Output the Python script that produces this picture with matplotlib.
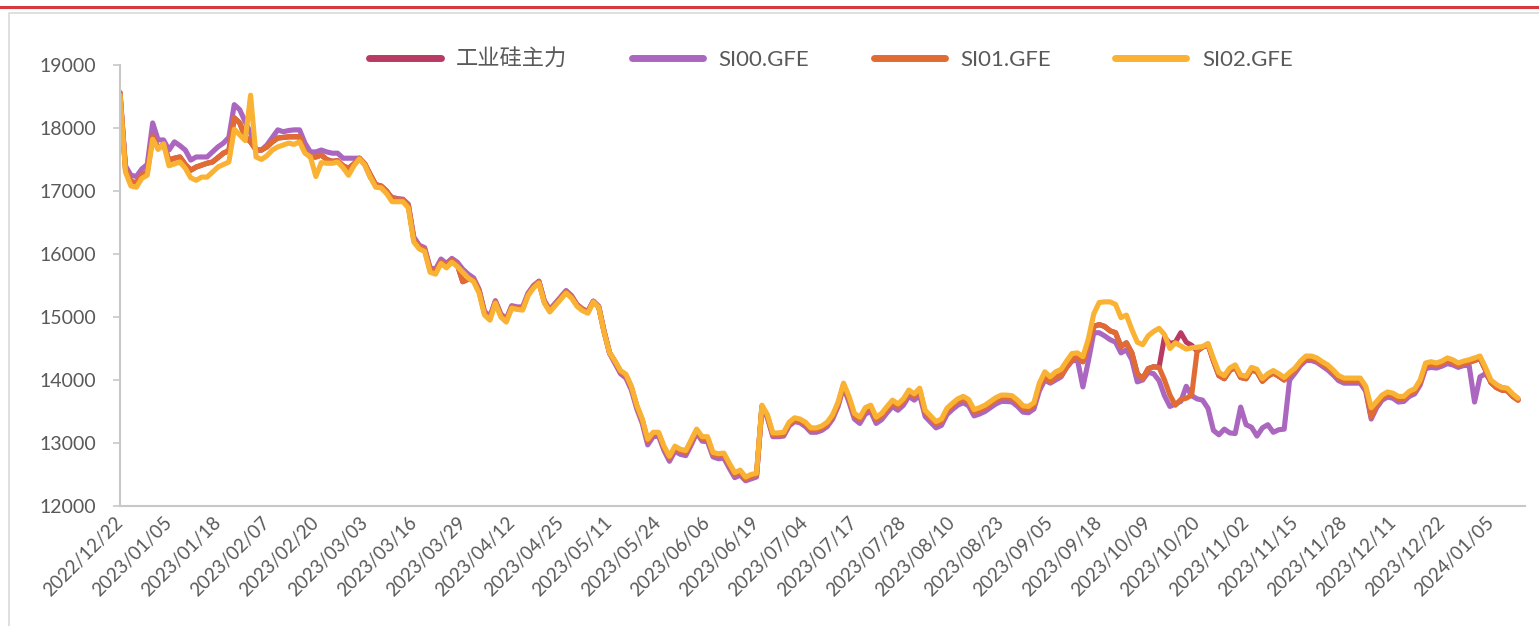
import matplotlib.pyplot as plt
from matplotlib.lines import Line2D

plt.rcParams['font.family'] = ['Lato', 'Noto Sans CJK SC', 'DejaVu Sans']

# x-axis labels, one every 9 trading days
tick_labels = ['2022/12/22', '2023/01/05', '2023/01/18', '2023/02/07', '2023/02/20',
               '2023/03/03', '2023/03/16', '2023/03/29', '2023/04/12', '2023/04/25',
               '2023/05/11', '2023/05/24', '2023/06/06', '2023/06/19', '2023/07/04',
               '2023/07/17', '2023/07/28', '2023/08/10', '2023/08/23', '2023/09/05',
               '2023/09/18', '2023/10/09', '2023/10/20', '2023/11/02', '2023/11/15',
               '2023/11/28', '2023/12/11', '2023/12/22', '2024/01/05']

si02 = [18520, 17300, 17080, 17060, 17200, 17250, 17820, 17660, 17750, 17400,
        17430, 17460, 17360, 17210, 17170, 17220, 17220, 17300, 17380, 17420,
        17460, 17980, 17890, 17800, 18520, 17540, 17500, 17560, 17650, 17700,
        17730, 17760, 17740, 17780, 17600, 17540, 17230, 17450, 17440, 17440,
        17460, 17370, 17250, 17400, 17510, 17410, 17220, 17060, 17050, 16960,
        16830, 16830, 16830, 16730, 16190, 16080, 16040, 15710, 15680, 15850,
        15780, 15870, 15800, 15710, 15620, 15560, 15380, 15030, 14950, 15220,
        15000, 14920, 15140, 15120, 15110, 15340, 15460, 15540, 15220, 15080,
        15180, 15280, 15380, 15300, 15170, 15100, 15060, 15240, 15150, 14750,
        14430, 14300, 14150, 14090, 13900, 13600, 13380, 13060, 13170, 13170,
        12950, 12790, 12950, 12900, 12880, 13050, 13220, 13100, 13100, 12850,
        12830, 12840, 12680, 12530, 12570, 12460, 12500, 12520, 13600, 13450,
        13160, 13160, 13170, 13330, 13400, 13380, 13330, 13240, 13240, 13270,
        13330, 13450, 13650, 13950, 13740, 13470, 13410, 13560, 13600, 13410,
        13470, 13580, 13680, 13620, 13700, 13840, 13780, 13870, 13520, 13430,
        13340, 13380, 13550, 13630, 13700, 13740, 13690, 13530, 13560, 13600,
        13660, 13720, 13760, 13760, 13750, 13680, 13590, 13580, 13640, 13950,
        14130, 14050, 14130, 14170, 14300, 14420, 14430, 14370, 14650, 15050,
        15230, 15240, 15240, 15200, 14990, 15030, 14800, 14600, 14560, 14700,
        14770, 14820, 14720, 14500, 14590, 14540, 14490, 14510, 14520, 14530,
        14580, 14340, 14120, 14070, 14190, 14240, 14080, 14060, 14200, 14170,
        14020, 14100, 14150, 14100, 14040, 14120, 14190, 14300, 14380, 14380,
        14350, 14290, 14240, 14160, 14070, 14030, 14030, 14030, 14030, 13900,
        13560, 13660, 13760, 13810, 13790, 13740, 13740, 13820, 13860, 14000,
        14270, 14290, 14270, 14300, 14350, 14320, 14270, 14300, 14320, 14350,
        14380, 14200, 14000, 13930, 13880, 13870, 13780, 13710]

si01 = [18560, 17350, 17150, 17130, 17260, 17300, 17870, 17680, 17740, 17490,
        17520, 17540, 17420, 17330, 17380, 17410, 17440, 17460, 17530, 17600,
        17640, 18160, 18080, 17860, 17780, 17650, 17650, 17700, 17780, 17840,
        17850, 17860, 17860, 17860, 17620, 17540, 17540, 17570, 17500, 17470,
        17480, 17400, 17360, 17430, 17520, 17430, 17260, 17100, 17080, 17000,
        16880, 16870, 16860, 16770, 16230, 16110, 16070, 15750, 15720, 15880,
        15810, 15900, 15830, 15560, 15600, 15590, 15420, 15060, 14980, 15240,
        15030, 14950, 15160, 15140, 15130, 15360, 15480, 15560, 15240, 15100,
        15200, 15300, 15400, 15320, 15190, 15120, 15080, 15250, 15160, 14760,
        14430, 14290, 14130, 14070, 13880, 13580, 13360, 13030, 13150, 13150,
        12920, 12760, 12920, 12870, 12850, 13020, 13200, 13070, 13070, 12820,
        12800, 12810, 12650, 12500, 12540, 12430, 12470, 12490, 13580, 13420,
        13130, 13130, 13140, 13300, 13370, 13350, 13300, 13210, 13210, 13240,
        13300, 13420, 13620, 13920, 13700, 13430, 13370, 13520, 13560, 13370,
        13430, 13540, 13640, 13580, 13660, 13800, 13740, 13830, 13480, 13390,
        13300, 13340, 13510, 13590, 13660, 13700, 13650, 13490, 13520, 13560,
        13620, 13680, 13720, 13720, 13710, 13640, 13550, 13540, 13600, 13900,
        14050, 13970, 14050, 14070, 14200, 14320, 14370, 14290, 14560, 14850,
        14880, 14850, 14780, 14750, 14530, 14590, 14430, 14100, 14020, 14180,
        14210, 14200, 14000, 13760, 13600, 13690, 13710, 13760, 14460, 14520,
        14560, 14300, 14070, 14020, 14150, 14200, 14040, 14020, 14160, 14130,
        13980, 14060, 14110, 14060, 14000, 14080, 14150, 14260, 14340, 14340,
        14310, 14250, 14200, 14120, 14030, 13990, 13990, 13990, 13990, 13860,
        13420, 13600, 13710, 13770, 13750, 13700, 13700, 13780, 13820, 13960,
        14230, 14250, 14230, 14260, 14310, 14280, 14230, 14260, 14280, 14310,
        14340, 14160, 13960, 13880, 13840, 13830, 13740, 13680]

si00 = [18500, 17400, 17250, 17230, 17350, 17420, 18080, 17810, 17810, 17650,
        17780, 17720, 17650, 17490, 17540, 17540, 17540, 17620, 17700, 17760,
        17850, 18370, 18290, 18100, 17920, 17650, 17650, 17730, 17850, 17970,
        17940, 17960, 17970, 17970, 17760, 17620, 17620, 17650, 17620, 17600,
        17600, 17520, 17520, 17520, 17520, 17420, 17220, 17100, 17060, 16970,
        16900, 16880, 16870, 16790, 16270, 16140, 16100, 15780, 15760, 15920,
        15850, 15930, 15870, 15760, 15680, 15620, 15440, 15090, 15010, 15260,
        15050, 14970, 15180, 15160, 15160, 15380, 15500, 15570, 15260, 15120,
        15220, 15320, 15420, 15340, 15200, 15130, 15090, 15250, 15170, 14770,
        14420, 14260, 14100, 14030, 13840, 13540, 13310, 12970, 13100, 13110,
        12880, 12710, 12870, 12820, 12800, 12970, 13160, 13030, 13020, 12780,
        12750, 12760, 12600, 12450, 12490, 12400, 12430, 12460, 13560, 13400,
        13100, 13100, 13110, 13270, 13340, 13320, 13260, 13170, 13170, 13200,
        13260, 13380, 13580, 13890, 13650, 13380, 13310, 13460, 13500, 13310,
        13370, 13480, 13580, 13520, 13600, 13740, 13680, 13760, 13420, 13330,
        13240, 13280, 13450, 13530, 13600, 13640, 13590, 13430, 13460, 13500,
        13560, 13620, 13660, 13660, 13650, 13580, 13490, 13480, 13540, 13830,
        14000, 13950, 14000, 14050, 14200, 14300, 14320, 13890, 14300, 14750,
        14750, 14700, 14640, 14600, 14430, 14480, 14320, 13970, 14000, 14120,
        14100, 13990, 13750, 13580, 13620, 13660, 13900, 13750, 13700, 13680,
        13550, 13200, 13130, 13220, 13160, 13150, 13570, 13290, 13250, 13110,
        13240, 13290, 13170, 13210, 13220, 14000, 14110, 14230, 14310, 14310,
        14280, 14220, 14160, 14080, 13990, 13950, 13950, 13950, 13950, 13820,
        13380, 13560, 13680, 13730, 13710, 13650, 13660, 13740, 13780, 13920,
        14180, 14200, 14190, 14220, 14260, 14240, 14200, 14230, 14230, 13650,
        14050, 14100, 13980, 13920, 13880, 13860, 13760, 13700]

# main contract follows SI01 except for a week in October when it sat on the next contract
main = si01[:192] + [14680, 14580, 14600, 14750, 14600, 14550] + si01[198:]

names = ['工业硅主力', 'SI00.GFE', 'SI01.GFE', 'SI02.GFE']
colors = ['#B93A63', '#AB66BF', '#E06C34', '#F9B233']

fig = plt.figure(figsize=(15.39, 6.26), dpi=100)
ax = fig.add_axes([0.078, 0.1917, 0.913, 0.7045])

x = range(len(si02))
for y, name, c in zip([main, si00, si01, si02], names, colors):
    ax.plot(x, y, color=c, lw=3.7, solid_joinstyle='round',
            solid_capstyle='round', label=name)

ax.set_xlim(0, 258.3)
ax.set_ylim(12000, 19000)
ax.set_yticks(range(12000, 19001, 1000))
ax.set_xticks(range(0, len(si02), 9))
ax.set_xticklabels(tick_labels, rotation=45, ha='right', va='center',
                   rotation_mode='anchor')

for s in ['top', 'right']:
    ax.spines[s].set_visible(False)
for s in ['left', 'bottom']:
    ax.spines[s].set_color('#C8C8C8')
    ax.spines[s].set_linewidth(1.5)
ax.tick_params(axis='y', length=5, width=1.2, color='#C8C8C8', pad=12,
               labelsize=14, labelcolor='#595959')
ax.tick_params(axis='x', length=0, pad=10, labelsize=13.5, labelcolor='#595959')

handles = [Line2D([], [], color=c, lw=5, solid_capstyle='round') for c in colors]
ax.legend(handles, names, loc='center', bbox_to_anchor=(0.506, 1.012), ncol=4,
          frameon=False, fontsize=16, handlelength=3.2, handletextpad=0.7,
          columnspacing=2.9, labelcolor='#595959')

# red rule along the top and the grey chart frame
fig.add_artist(Line2D([0, 1], [0.989, 0.989], transform=fig.transFigure,
                      color='#D63A3C', lw=2.2))
fig.add_artist(Line2D([0.006, 0.006, 1], [0, 0.979, 0.979], transform=fig.transFigure,
                      color='#D9D9D9', lw=1.2))

fig.savefig('out.png', dpi=100)
